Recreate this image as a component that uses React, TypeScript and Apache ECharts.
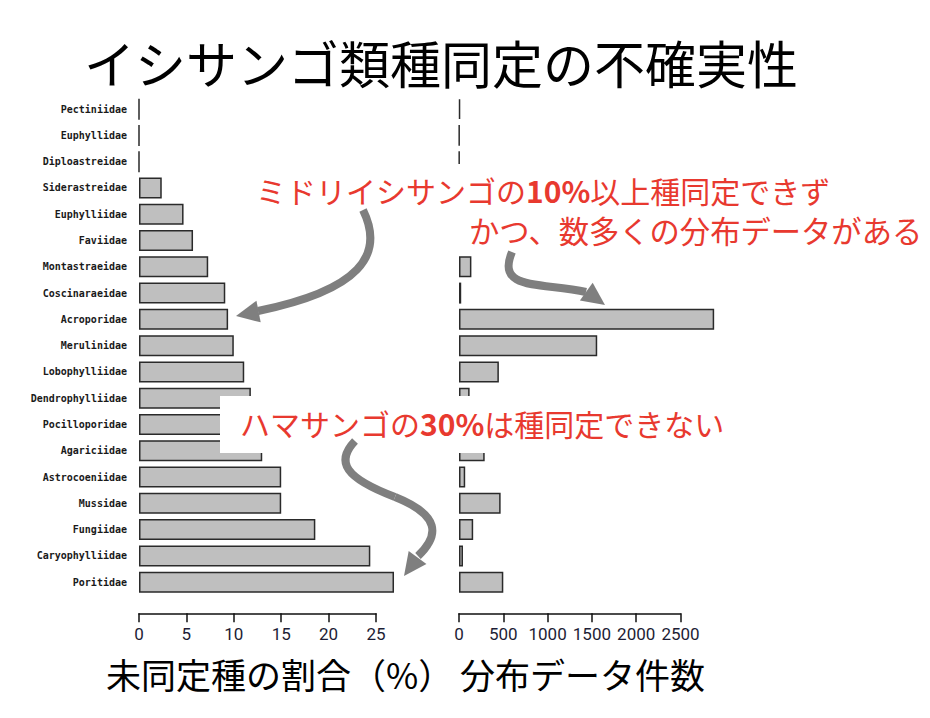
import React, { useEffect, useRef } from "react";
import * as echarts from "echarts";

const categories = [
  "Pectiniidae", "Euphyllidae", "Diploastreidae", "Siderastreidae", "Euphylliidae",
  "Faviidae", "Montastraeidae", "Coscinaraeidae", "Acroporidae", "Merulinidae",
  "Lobophylliidae", "Dendrophylliidae", "Pocilloporidae", "Agariciidae", "Astrocoeniidae",
  "Mussidae", "Fungiidae", "Caryophylliidae", "Poritidae",
];
const unidentifiedPct = [0, 0, 0, 2.4, 4.7, 5.7, 7.3, 9.1, 9.4, 10.0, 11.1, 11.8, 12.4, 13.0, 15.0, 15.0, 18.6, 24.4, 26.9];
const recordCounts = [12, 4, 4, 150, 60, 250, 140, 25, 2880, 1560, 450, 120, 600, 290, 70, 470, 160, 45, 500];
const pctTicks = { min: 0, max: 25, interval: 5 };
const countTicks = { min: 0, max: 2500, interval: 500 };

const TITLE = "イシサンゴ類種同定の不確実性";
const XLABEL_LEFT = "未同定種の割合（%）";
const XLABEL_RIGHT = "分布データ件数";
const NOTE_1A = "ミドリイシサンゴの";
const NOTE_1B = "10%";
const NOTE_1C = "以上種同定できず";
const NOTE_2 = "かつ、数多くの分布データがある";
const NOTE_3A = "ハマサンゴの";
const NOTE_3B = "30%";
const NOTE_3C = "は種同定できない";

const CJK = "'Noto Sans CJK JP', 'Noto Sans', sans-serif";
const RED = "#e8392f";
const ARROW = "#7f7f7f";

function arrowHead(tip: number[], dir: number[], len: number, half: number) {
  const n = Math.hypot(dir[0], dir[1]);
  const d = [dir[0] / n, dir[1] / n];
  const p = [-d[1], d[0]];
  const c = [tip[0] - d[0] * len, tip[1] - d[1] * len];
  return [tip, [c[0] + p[0] * half, c[1] + p[1] * half], [c[0] - p[0] * half, c[1] - p[1] * half]];
}

export default function App() {
  const ref = useRef<HTMLDivElement>(null);
  useEffect(() => {
    const chart = echarts.init(ref.current!, null, { renderer: "svg" });
    const top = 96;
    const height = 499.3;
    const barStyle = { color: "#bfbfbf", borderColor: "#2a2a2a", borderWidth: 1.5 };
    const xAxisCommon = {
      type: "value" as const,
      offset: 18,
      splitLine: { show: false },
      axisLine: { show: true, lineStyle: { color: "#111", width: 1.5 } },
      axisTick: { show: true, length: 9, lineStyle: { color: "#111", width: 1.5 } },
      axisLabel: {
        margin: 12, fontSize: 17, color: "#1d1d35", fontFamily: "Roboto, sans-serif",
        formatter: (v: number) => String(v), showMaxLabel: true, showMinLabel: true, hideOverlap: false,
      },
    };
    const bezier = (pts: number[][], z = 55) => ({
      type: "bezierCurve",
      z,
      shape: { x1: pts[0][0], y1: pts[0][1], cpx1: pts[1][0], cpy1: pts[1][1], cpx2: pts[2][0], cpy2: pts[2][1], x2: pts[3][0], y2: pts[3][1] },
      style: { stroke: ARROW, lineWidth: 8, fill: null, lineCap: "butt" },
    });
    const head = (pts: number[][]) => ({ type: "polygon", z: 56, shape: { points: pts }, style: { fill: ARROW } });
    const text = (t: string, x: number, y: number, size: number, fill: string, extra: any = {}) => ({
      type: "text",
      z: 60,
      style: {
        text: t, x, y, fontSize: size, fontFamily: CJK, fill,
        align: "left", verticalAlign: "middle", textAlign: "left", textVerticalAlign: "middle",
        ...extra,
      },
    });
    const richRed = {
      a: { fontSize: 30, lineHeight: 32, fontFamily: CJK, fill: RED, color: RED },
      b: { fontSize: 30, lineHeight: 32, fontFamily: CJK, fill: RED, color: RED, fontWeight: "bold" },
    };

    chart.setOption({
      animation: false,
      backgroundColor: "#ffffff",
      grid: [
        { left: 139, top, width: 237, height },
        { left: 459, top, width: 221.5, height },
      ],
      xAxis: [
        { ...xAxisCommon, gridIndex: 0, ...pctTicks },
        { ...xAxisCommon, gridIndex: 1, ...countTicks },
      ],
      yAxis: [
        {
          type: "category", gridIndex: 0, data: categories, inverse: true,
          axisLine: { show: false }, axisTick: { show: false },
          axisLabel: { margin: 12, fontSize: 10, fontWeight: "bold", color: "#1a1a1a", fontFamily: "'DejaVu Sans Mono', monospace" },
        },
        {
          type: "category", gridIndex: 1, data: categories, inverse: true,
          axisLine: { show: false }, axisTick: { show: false }, axisLabel: { show: false },
        },
      ],
      series: [
        { type: "bar", xAxisIndex: 0, yAxisIndex: 0, data: unidentifiedPct, barWidth: 21, clip: false, itemStyle: barStyle },
        { type: "bar", xAxisIndex: 1, yAxisIndex: 1, data: recordCounts, barWidth: 21, clip: false, itemStyle: barStyle },
      ],
      graphic: [
        text(TITLE, 84, 62, 51, "#000"),
        text(XLABEL_LEFT, 106, 673, 35, "#000"),
        text(XLABEL_RIGHT, 460, 673, 35, "#000"),
        { type: "rect", z: 50, shape: { x: 250, y: 164, width: 680, height: 91 }, style: { fill: "#ffffff" } },
        { type: "rect", z: 50, shape: { x: 220, y: 396, width: 520, height: 57 }, style: { fill: "#ffffff" } },
        text(`{a|${NOTE_1A}}{b|${NOTE_1B}}{a|${NOTE_1C}}`, 256, 190, 30, RED, { rich: richRed }),
        text(NOTE_2, 469, 230, 30.3, RED),
        text(`{a|${NOTE_3A}}{b|${NOTE_3B}}{a|${NOTE_3C}}`, 240, 423, 30, RED, { rich: richRed }),
        // arrow 1
        bezier([[363, 210], [385, 255], [360, 290], [258, 311]]),
        head(arrowHead([236, 316], [-102, 20], 23, 11)),
        // arrow 2
        bezier([[512, 252], [495, 292], [545, 282], [586, 292]]),
        head(arrowHead([605, 305], [17.5, 12.5], 23, 11)),
        // arrow 3
        bezier([[355, 441], [335, 462], [345, 478], [395, 497]]),
        bezier([[395, 497], [440, 515], [440, 535], [418, 556]]),
        head(arrowHead([404, 576], [-13.5, 18.5], 23, 11)),
      ],
    });
    return () => chart.dispose();
  }, []);
  return <div ref={ref} style={{ position: "fixed", left: 0, top: 0, width: 930, height: 718, background: "#fff" }} />;
}
